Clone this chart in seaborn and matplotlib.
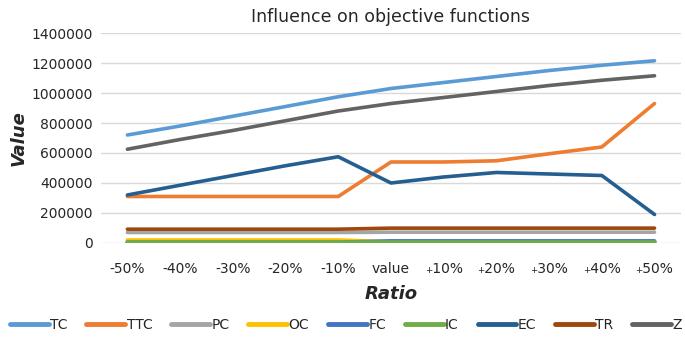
import pandas as pd
import matplotlib.pyplot as plt
import matplotlib.ticker as mticker
import seaborn as sns

ratios = ['-50%', '-40%', '-30%', '-20%', '-10%', 'value',
          '\u208a10%', '\u208a20%', '\u208a30%', '\u208a40%', '\u208a50%']

tc = [720000, 780000, 845000, 910000, 975000, 1030000, 1070000, 1110000, 1150000, 1185000, 1215000]
ttc = [310000, 310000, 310000, 310000, 310000, 540000, 540000, 548000, 595000, 640000, 930000]
pc = [70000, 70000, 70000, 70000, 70000, 72000, 72000, 72000, 72000, 72000, 72000]
oc = [20000, 20000, 20000, 20000, 20000, 8000, 8000, 8000, 8000, 8000, 8000]
fc = [5000, 5000, 5000, 5000, 5000, 14000, 14000, 14000, 14000, 14000, 14000]
ic = [6000, 6000, 6000, 6000, 6000, 6000, 6000, 6000, 6000, 6000, 6000]
ec = [320000, 385000, 450000, 515000, 575000, 400000, 440000, 470000, 460000, 450000, 190000]
tr = [92000, 92000, 92000, 92000, 92000, 99000, 99000, 99000, 99000, 99000, 99000]
z = [625000, 690000, 750000, 815000, 880000, 930000, 970000, 1010000, 1050000, 1085000, 1115000]

series = {'TC': tc, 'TTC': ttc, 'PC': pc, 'OC': oc, 'FC': fc,
          'IC': ic, 'EC': ec, 'TR': tr, 'Z': z}
colors = ['#5B9BD5', '#ED7D31', '#A5A5A5', '#FFC000', '#4472C4',
          '#70AD47', '#255E91', '#9E480E', '#636363']

rows = []
for name, vals in series.items():
    for r, v in zip(ratios, vals):
        rows.append([r, name, v])
df = pd.DataFrame(rows, columns=['Ratio', 'Series', 'Value'])

sns.set_style('white')
plt.rcParams['font.family'] = ['DejaVu Sans']

fig, ax = plt.subplots(figsize=(6.85, 3.37), dpi=100)
fig.subplots_adjust(left=0.1475, right=0.994, bottom=0.279, top=0.902)

sns.lineplot(data=df, x='Ratio', y='Value', hue='Series', hue_order=list(series.keys()),
             palette=colors, sort=False, linewidth=2.6, ax=ax)
for line in ax.lines:
    line.set_solid_capstyle('round')

ax.set_xlim(-0.5, len(ratios) - 0.5)
ax.set_ylim(0, 1400000)
ax.set_yticks(range(0, 1400001, 200000))
ax.yaxis.set_major_formatter(mticker.StrMethodFormatter('{x:.0f}'))
ax.grid(axis='y', color='#D9D9D9', linewidth=1)
ax.set_axisbelow(True)
sns.despine(left=True, bottom=True)
ax.tick_params(axis='x', pad=14, length=0, labelsize=10, colors='#262626')
ax.tick_params(axis='y', pad=6, length=0, labelsize=10, colors='#262626')

ax.set_title('Influence on objective functions', fontsize=12.5, pad=8)
ax.set_xlabel('Ratio', fontsize=13, fontweight='bold', fontstyle='italic', labelpad=6)
ax.set_ylabel('Value', fontsize=13, fontweight='bold', fontstyle='italic', labelpad=3)

handles, labels = ax.get_legend_handles_labels()
ax.get_legend().remove()
for h in handles:
    h.set_linewidth(3.5)
fig.legend(handles, labels, loc='center', bbox_to_anchor=(0.505, 0.036), ncol=9,
           frameon=False, fontsize=10, handlelength=2.8, handletextpad=0.1,
           columnspacing=1.35)

fig.savefig('out.png', dpi=100)
